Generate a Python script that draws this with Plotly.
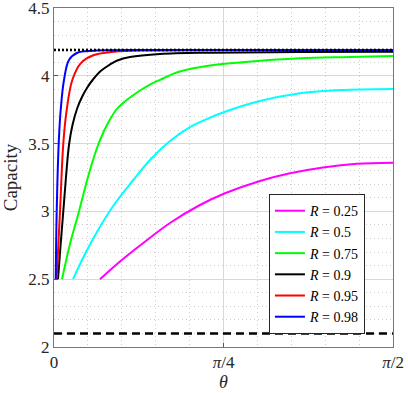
import math
import plotly.graph_objects as go

# theta (rad) / capacity
theta_r025 = [0.2131, 0.3058, 0.3985, 0.5375, 0.6765, 0.7923, 0.9545, 1.0935, 1.2464, 1.404, 1.5708]
cap_r025 = [2.5, 2.6305, 2.7485, 2.9145, 3.0472, 3.1335, 3.2242, 3.281, 3.3237, 3.351, 3.359]

theta_r05 = [0.088, 0.1483, 0.2131, 0.2873, 0.3674, 0.4448, 0.5375, 0.6302, 0.7075, 0.7923, 0.9545, 1.1399, 1.3252, 1.5708]
cap_r05 = [2.5, 2.7006, 2.887, 3.069, 3.2316, 3.379, 3.519, 3.622, 3.681, 3.735, 3.814, 3.871, 3.895, 3.903]

theta_r075 = [0.0371, 0.0741, 0.1158, 0.1575, 0.1992, 0.2317, 0.2595, 0.2873, 0.3197, 0.3522, 0.3985,
              0.4448, 0.5051, 0.5685, 0.6533, 0.7228, 0.8618, 1.1399, 1.3715, 1.5708]
cap_r075 = [2.5, 2.7596, 3.0, 3.2537, 3.4676, 3.5929, 3.6777, 3.7478, 3.7994, 3.840, 3.8916,
            3.9358, 3.980, 4.0243, 4.0575, 4.076, 4.0981, 4.129, 4.1386, 4.146]

theta_r09 = [0.0185, 0.0306, 0.0431, 0.0556, 0.0695, 0.0857, 0.108, 0.1297, 0.1543, 0.1807, 0.2164,
             0.2595, 0.2933, 0.3522, 0.4912, 0.7228, 1.1399, 1.5708]
cap_r09 = [2.5, 2.752, 3.0, 3.2537, 3.4897, 3.637, 3.7625, 3.8437, 3.9137, 3.9727, 4.0354,
           4.0833, 4.1128, 4.1386, 4.1608, 4.1704, 4.1755, 4.177]

theta_r095 = [0.0125, 0.0278, 0.0431, 0.0588, 0.0848, 0.1237, 0.1853, 0.278, 0.4448, 1.5708]
cap_r095 = [2.5, 3.0, 3.5, 3.748, 3.969, 4.092, 4.153, 4.178, 4.187, 4.19]

theta_r098 = [0.0079, 0.0125, 0.0218, 0.031, 0.0463, 0.0695, 0.108, 0.1853, 0.4448, 1.5708]
cap_r098 = [2.5, 3.0, 3.5, 3.748, 3.969, 4.117, 4.17, 4.185, 4.19, 4.19]

upper_bound = 4.19
lower_bound = 2.1

series = [
    ("0.25", theta_r025, cap_r025, "#ff00ff"),
    ("0.5", theta_r05, cap_r05, "#00ffff"),
    ("0.75", theta_r075, cap_r075, "#00ff00"),
    ("0.9", theta_r09, cap_r09, "#000000"),
    ("0.95", theta_r095, cap_r095, "#ff0000"),
    ("0.98", theta_r098, cap_r098, "#0000ff"),
]

FONT = "Liberation Serif"
fig = go.Figure()

for r, th, cap, col in series:
    fig.add_trace(go.Scatter(
        x=th, y=cap, mode="lines", name=f"<i>R</i> = {r}",
        line=dict(color=col, width=2, shape="spline", smoothing=1.0),
    ))

half_pi = math.pi / 2
fig.add_trace(go.Scatter(x=[0, half_pi], y=[upper_bound, upper_bound], mode="lines",
                         line=dict(color="black", width=2.5, dash="2px,2px"), showlegend=False))
fig.add_trace(go.Scatter(x=[0, half_pi], y=[lower_bound, lower_bound], mode="lines",
                         line=dict(color="black", width=2.5, dash="8px,5px"), showlegend=False))

fig.update_layout(
    width=408, height=393,
    margin=dict(l=54, r=15, t=8, b=46),
    paper_bgcolor="white", plot_bgcolor="white",
    font=dict(family=FONT, size=17, color="#262626"),
    legend=dict(
        x=0.634, y=0.038, xanchor="left", yanchor="bottom",
        bgcolor="white", bordercolor="#262626", borderwidth=1,
        font=dict(family=FONT, size=14, color="black"),
        tracegroupgap=0, itemwidth=30,
    ),
)

grid_minor = dict(showgrid=True, gridcolor="#cccccc", griddash="1px,3px", gridwidth=1)

fig.update_xaxes(
    range=[0, half_pi], automargin=False, ticklabeloverflow="allow",
    tickmode="array", tickvals=[0, math.pi / 4, half_pi],
    ticktext=["0", "<i>π</i>/4", "<i>π</i>/2"],
    ticks="inside", ticklen=4, tickcolor="#555",
    showline=True, linecolor="#777", linewidth=1, mirror=True,
    showgrid=True, gridcolor="#d8d8d8", gridwidth=1,
    minor=dict(tickmode="array", tickvals=[k * math.pi / 20 for k in range(1, 10)], **grid_minor),
    zeroline=False,
    title=dict(text="<i>θ</i>", standoff=2, font=dict(size=18)),
)
fig.update_yaxes(
    range=[2, 4.5], automargin=False, ticklabeloverflow="allow",
    tickmode="array", tickvals=[2, 2.5, 3, 3.5, 4, 4.5],
    ticktext=["2", "2.5", "3", "3.5", "4", "4.5"],
    ticks="inside", ticklen=4, tickcolor="#555",
    showline=True, linecolor="#777", linewidth=1, mirror=True,
    showgrid=True, gridcolor="#d8d8d8", gridwidth=1,
    minor=dict(tickmode="array", tickvals=[2 + k * 0.1 for k in range(1, 25) if k % 5], **grid_minor),
    zeroline=False,
    title=dict(text="Capacity", standoff=6, font=dict(size=19)),
)

# drop the page's default body margin so the figure sits at the top-left corner
fig.write_html("out.html", config={"displayModeBar": False},
               post_script="document.body.style.margin='0';")
